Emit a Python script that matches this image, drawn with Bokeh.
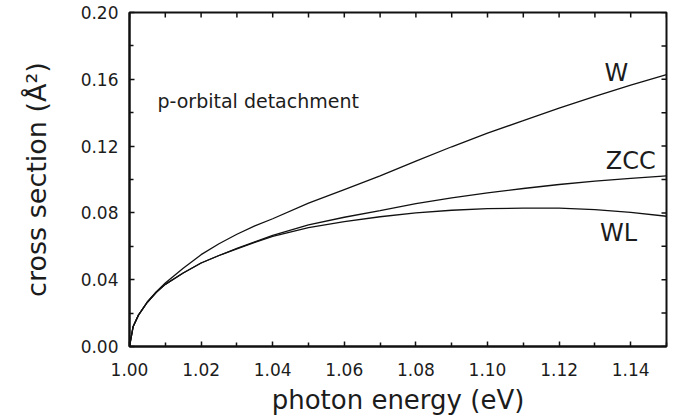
import math
from bokeh.plotting import figure
from bokeh.models import FixedTicker, Range1d, Label
from bokeh.embed import file_html
from bokeh.resources import INLINE

# ---- data ----
energy = [1.000, 1.001, 1.0025, 1.005, 1.0075, 1.010, 1.015, 1.020, 1.025, 1.030, 1.035, 1.040,
          1.050, 1.060, 1.070, 1.080, 1.090, 1.100, 1.110, 1.120, 1.130, 1.140, 1.150]
sigma_W = [0, 0.0118, 0.0188, 0.0268, 0.0328, 0.0380, 0.0468, 0.0550, 0.0615, 0.0672, 0.0722, 0.0765,
           0.0858, 0.0940, 0.1022, 0.1110, 0.1196, 0.1278, 0.1352, 0.1428, 0.1498, 0.1565, 0.1628]
sigma_ZCC = [0, 0.0118, 0.0188, 0.0265, 0.0325, 0.0372, 0.0440, 0.0500, 0.0545, 0.0587, 0.0627, 0.0665,
             0.0728, 0.0774, 0.0814, 0.0855, 0.0890, 0.0920, 0.0946, 0.0970, 0.0990, 0.1007, 0.1022]
sigma_WL = [0, 0.0118, 0.0188, 0.0265, 0.0325, 0.0372, 0.0440, 0.0500, 0.0545, 0.0585, 0.0624, 0.0660,
            0.0712, 0.0748, 0.0777, 0.0800, 0.0816, 0.0825, 0.0829, 0.0828, 0.0820, 0.0803, 0.0780]

x_ticks = [1.00, 1.02, 1.04, 1.06, 1.08, 1.10, 1.12, 1.14]
x_tick_labels = ["1.00", "1.02", "1.04", "1.06", "1.08", "1.10", "1.12", "1.14"]
x_minor = [1.01, 1.03, 1.05, 1.07, 1.09, 1.11, 1.13, 1.15]
y_ticks = [0.00, 0.04, 0.08, 0.12, 0.16, 0.20]
y_tick_labels = ["0.00", "0.04", "0.08", "0.12", "0.16", "0.20"]
y_minor = [0.02, 0.06, 0.10, 0.14, 0.18]

curve_names = ["W", "ZCC", "WL"]
curve_label_x = [1.136, 1.140, 1.1366]
curve_label_y = [0.1638, 0.1111, 0.0680]

X_MIN, X_MAX = 1.0, 1.15
Y_MIN, Y_MAX = 0.0, 0.20

FONT = "DejaVu Sans"
INK = "#111111"
TXT = "#1c1c1c"

p = figure(width=675, height=420, output_backend="svg", toolbar_location=None,
           x_range=Range1d(X_MIN, X_MAX), y_range=Range1d(Y_MIN, Y_MAX),
           min_border_left=129, min_border_right=9, min_border_top=12, min_border_bottom=74)
p.grid.visible = False
p.outline_line_color = INK
p.outline_line_width = 2
p.background_fill_color = "white"
p.border_fill_color = "white"

for s in (sigma_W, sigma_ZCC, sigma_WL):
    p.line(energy, s, line_color=INK, line_width=1.3)

xt = FixedTicker(ticks=x_ticks, minor_ticks=x_minor)
yt = FixedTicker(ticks=y_ticks, minor_ticks=y_minor)

def style(ax, ticker, labels, tick_vals):
    ax.ticker = ticker
    ax.axis_line_color = INK
    ax.axis_line_width = 2
    ax.major_tick_line_color = INK
    ax.minor_tick_line_color = INK
    ax.major_tick_line_width = 1.5
    ax.minor_tick_line_width = 1.5
    ax.major_tick_in = 5
    ax.major_tick_out = 0
    ax.minor_tick_in = 4
    ax.minor_tick_out = 0
    ax.major_label_overrides = {v: t for v, t in zip(tick_vals, labels)}
    ax.major_label_text_font = FONT
    ax.major_label_text_font_size = "17px"
    ax.major_label_text_color = TXT

xa = p.xaxis[0]
style(xa, xt, x_tick_labels, x_ticks)
xa.major_label_standoff = 16
xa.axis_label = "photon energy (eV)"
xa.axis_label_text_font = FONT
xa.axis_label_text_font_size = "26px"
xa.axis_label_text_font_style = "normal"
xa.axis_label_text_color = TXT
xa.axis_label_standoff = 6

ya = p.yaxis[0]
style(ya, yt, y_tick_labels, y_ticks)
ya.major_label_standoff = 11
ya.axis_label = "cross section (Å²)"
ya.axis_label_text_font = FONT
ya.axis_label_text_font_size = "27px"
ya.axis_label_text_font_style = "normal"
ya.axis_label_text_color = TXT
ya.axis_label_standoff = 26

# inward ticks on the top and right frame edges (screen-length rays)
top_x = x_ticks + x_minor
p.ray(x=top_x, y=[Y_MAX] * len(top_x), length=5, angle=-math.pi / 2,
      length_units="screen", line_color=INK, line_width=1.5)
right_y = y_ticks + y_minor
p.ray(x=[X_MAX] * len(right_y), y=right_y, length=5, angle=math.pi,
      length_units="screen", line_color=INK, line_width=1.5)

for name, lx, ly in zip(curve_names, curve_label_x, curve_label_y):
    p.add_layout(Label(x=lx, y=ly, text=name, text_font=FONT, text_font_size="24px",
                       text_color=TXT, text_align="center", text_baseline="middle"))

p.add_layout(Label(x=1.0078, y=0.1471, text="p-orbital detachment", text_font=FONT,
                   text_font_size="19px", text_color=TXT, text_align="left",
                   text_baseline="middle"))

open("out.html", "w").write(file_html(p, INLINE))
